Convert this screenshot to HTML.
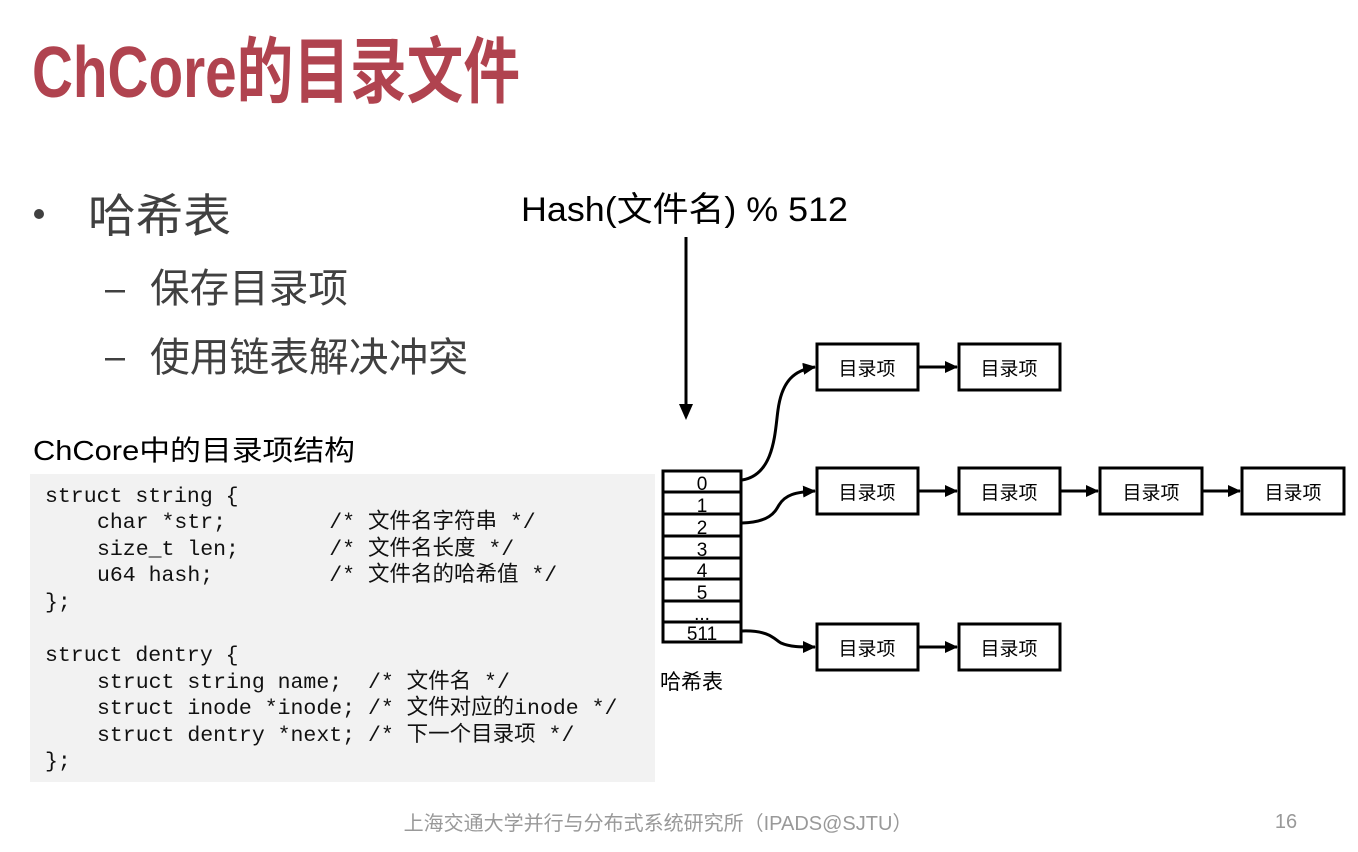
<!DOCTYPE html>
<html><head><meta charset="utf-8"><style>
html,body{margin:0;padding:0;background:#fff;}
svg{display:block;}
text{font-family:"Liberation Sans","Noto Sans CJK SC",sans-serif;}
.m text{font-family:"Liberation Mono","Noto Sans CJK SC",monospace;font-size:21.5px;fill:#111;}
</style></head><body>
<svg width="1358" height="852" viewBox="0 0 1358 852" xmlns="http://www.w3.org/2000/svg">
<defs><marker id="ah" markerWidth="14" markerHeight="14" refX="12" refY="6" orient="auto" markerUnits="userSpaceOnUse"><path d="M0,0 L13,6 L0,12 z" fill="#000"/></marker></defs>
<text x="32" y="97" font-size="72" font-weight="bold" fill="#b0434f" textLength="488" lengthAdjust="spacingAndGlyphs">ChCore的目录文件</text>
<circle cx="39" cy="214" r="5" fill="#404040"/>
<text x="88" y="232" font-size="46" fill="#404040" textLength="143" lengthAdjust="spacingAndGlyphs">哈希表</text>
<rect x="105" y="290" width="20" height="2.5" fill="#404040"/>
<text x="150" y="302" font-size="40" fill="#404040" textLength="198" lengthAdjust="spacingAndGlyphs">保存目录项</text>
<rect x="105" y="358" width="20" height="2.5" fill="#404040"/>
<text x="150" y="371" font-size="40" fill="#404040" textLength="318" lengthAdjust="spacingAndGlyphs">使用链表解决冲突</text>
<text x="521" y="221" font-size="34" fill="#000" textLength="327" lengthAdjust="spacingAndGlyphs">Hash(文件名) % 512</text>
<text x="33" y="460" font-size="28" fill="#000" textLength="322" lengthAdjust="spacingAndGlyphs">ChCore中的目录项结构</text>
<line x1="686" y1="237" x2="686" y2="406" stroke="#000" stroke-width="3"/>
<path d="M679,404 L693,404 L686,420 z" fill="#000"/>
<rect x="30" y="474" width="625" height="308" fill="#f2f2f2"/>
<g class="m">
<text x="45" y="502" xml:space="preserve">struct string {</text>
<text x="97" y="528" xml:space="preserve">char *str;        /* 文件名字符串 */</text>
<text x="97" y="555" xml:space="preserve">size_t len;       /* 文件名长度 */</text>
<text x="97" y="581" xml:space="preserve">u64 hash;         /* 文件名的哈希值 */</text>
<text x="45" y="608">};</text>
<text x="45" y="661" xml:space="preserve">struct dentry {</text>
<text x="97" y="688" xml:space="preserve">struct string name;  /* 文件名 */</text>
<text x="97" y="714" xml:space="preserve">struct inode *inode; /* 文件对应的inode */</text>
<text x="97" y="741" xml:space="preserve">struct dentry *next; /* 下一个目录项 */</text>
<text x="45" y="767">};</text>
</g>
<g stroke="#000" stroke-width="3" fill="#fff">
<rect x="663" y="471" width="78" height="171"/>
<line x1="663" y1="492" x2="741" y2="492"/><line x1="663" y1="514" x2="741" y2="514"/>
<line x1="663" y1="536" x2="741" y2="536"/><line x1="663" y1="558" x2="741" y2="558"/>
<line x1="663" y1="579" x2="741" y2="579"/><line x1="663" y1="601" x2="741" y2="601"/>
<line x1="663" y1="622" x2="741" y2="622"/>
</g>
<g font-size="19" fill="#000" text-anchor="middle">
<text x="702" y="490">0</text><text x="702" y="512">1</text><text x="702" y="534">2</text>
<text x="702" y="556">3</text><text x="702" y="577">4</text><text x="702" y="599">5</text>
<text x="702" y="620">...</text><text x="702" y="640">511</text>
</g>
<text x="660" y="689" font-size="21" fill="#000">哈希表</text>
<g stroke="#000" stroke-width="3" fill="#fff">
<rect x="817" y="344" width="101" height="46"/><rect x="959" y="344" width="101" height="46"/>
<rect x="817" y="468" width="101" height="46"/><rect x="959" y="468" width="101" height="46"/>
<rect x="1100" y="468" width="102" height="46"/><rect x="1242" y="468" width="102" height="46"/>
<rect x="817" y="624" width="101" height="46"/><rect x="959" y="624" width="101" height="46"/>
</g>
<g font-size="19" fill="#000" text-anchor="middle">
<text x="867" y="375">目录项</text><text x="1009" y="375">目录项</text>
<text x="867" y="499">目录项</text><text x="1009" y="499">目录项</text>
<text x="1151" y="499">目录项</text><text x="1293" y="499">目录项</text>
<text x="867" y="655">目录项</text><text x="1009" y="655">目录项</text>
</g>
<g stroke="#000" stroke-width="3" fill="none" marker-end="url(#ah)">
<line x1="918" y1="367" x2="957" y2="367"/>
<line x1="918" y1="491" x2="957" y2="491"/>
<line x1="1060" y1="491" x2="1098" y2="491"/>
<line x1="1202" y1="491" x2="1240" y2="491"/>
<line x1="918" y1="647" x2="957" y2="647"/>
<path d="M742,480 C775,475 775,430 778,410 C782,380 795,370 815,367"/>
<path d="M742,523 C770,522 775,512 779,505 C785,495 795,492 815,491"/>
<path d="M742,631 C770,630 775,640 781,643 C790,647 800,647 815,647"/>
</g>
<text x="658" y="830" font-size="20" fill="#999" text-anchor="middle">上海交通大学并行与分布式系统研究所（IPADS@SJTU）</text>
<text x="1286" y="828" font-size="20" fill="#999" text-anchor="middle">16</text>
</svg>
</body></html>
